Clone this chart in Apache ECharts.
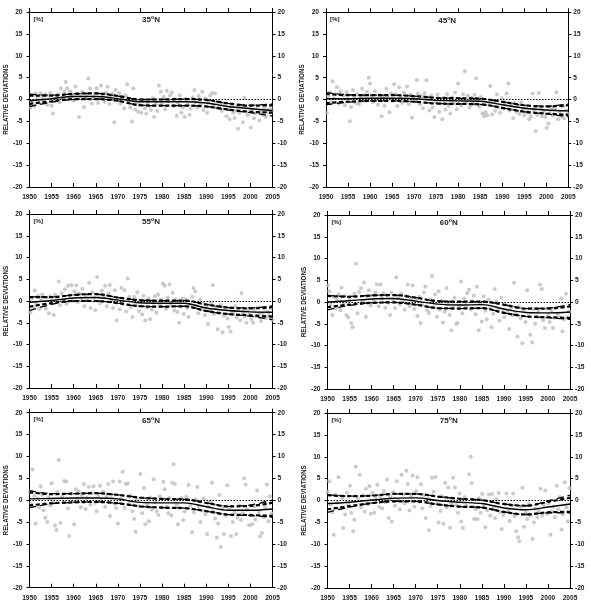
<!DOCTYPE html>
<html><head><meta charset="utf-8">
<script src="https://cdn.jsdelivr.net/npm/echarts@6/dist/echarts.min.js"></script>
<style>html,body{margin:0;padding:0;background:#fff}#c{width:591px;height:607px}</style>
</head><body><div id="c"></div><script>
const PANEL_TITLES = ['35', '45', '55', '60', '65', '75'];
const LINE_YEARS = [1950,1955,1960,1965,1970,1975,1980,1985,1990,1995,2000,2005];

const pts35 = [[1950.2,-1.9],[1950.5,-0.5],[1950.8,1.0],[1951.1,-1.5],[1951.4,1.4],[1951.8,0.3],[1952.2,-0.8],[1952.5,1.5],[1952.9,0.6],[1953.3,-0.2],[1953.6,1.2],[1954.0,-1.2],[1954.3,0.9],[1954.7,1.5],[1955.0,-1.4],[1955.3,-3.2],[1955.7,-0.3],[1956.1,0.5],[1956.4,1.2],[1956.8,-0.6],[1957.1,2.5],[1957.5,0.4],[1957.9,1.8],[1958.2,4.0],[1958.5,2.6],[1958.9,0.2],[1959.2,1.9],[1959.6,0.8],[1960.0,-0.3],[1960.4,3.0],[1960.8,1.4],[1961.2,-4.0],[1961.5,0.9],[1961.9,1.8],[1962.3,-1.7],[1962.6,0.3],[1963.0,1.2],[1963.3,4.8],[1963.7,2.5],[1964.1,-0.9],[1964.4,0.6],[1964.8,1.4],[1965.2,2.6],[1965.5,-0.8],[1965.9,0.2],[1966.2,3.2],[1966.6,1.0],[1967.0,-0.5],[1967.3,1.6],[1967.7,2.9],[1968.1,-1.0],[1968.4,0.5],[1968.8,1.3],[1969.2,-5.2],[1969.5,2.2],[1969.9,0.0],[1970.3,1.5],[1970.6,-0.9],[1971.0,0.4],[1971.4,-2.0],[1971.7,1.0],[1972.1,3.5],[1972.4,-0.3],[1972.8,-1.8],[1973.2,-5.0],[1973.5,2.5],[1973.9,-2.3],[1974.2,-0.6],[1974.6,-2.8],[1975.0,-1.2],[1975.3,-3.0],[1975.7,-0.2],[1976.1,-2.0],[1976.4,-3.2],[1976.8,-0.8],[1977.1,-1.5],[1977.5,-2.4],[1977.9,0.3],[1978.2,-4.0],[1978.6,-1.0],[1978.9,-2.6],[1979.3,3.2],[1979.7,1.8],[1980.0,-1.0],[1980.4,0.6],[1980.7,-2.2],[1981.1,2.0],[1981.5,-0.4],[1981.8,0.9],[1982.2,1.6],[1982.6,-1.5],[1982.9,0.2],[1983.3,-3.7],[1983.6,-0.8],[1984.0,1.0],[1984.4,-3.0],[1984.7,-1.8],[1985.1,-4.0],[1985.4,0.2],[1985.8,-1.2],[1986.2,-3.5],[1986.5,-2.1],[1986.9,0.5],[1987.3,2.2],[1987.6,-0.6],[1988.0,-1.8],[1988.3,0.8],[1988.7,-1.0],[1989.1,1.8],[1989.4,-2.4],[1989.8,0.3],[1990.2,-3.0],[1990.5,-0.7],[1990.9,0.9],[1991.3,1.5],[1991.6,-1.6],[1992.0,1.4],[1992.4,-0.5],[1992.7,-2.0],[1993.1,-1.5],[1993.5,-2.6],[1993.8,-0.9],[1994.2,-1.3],[1994.6,-3.8],[1995.0,-2.0],[1995.3,-4.5],[1995.7,-1.6],[1996.1,-3.0],[1996.4,-4.2],[1996.8,-2.5],[1997.2,-6.7],[1997.5,-3.0],[1997.9,-1.5],[1998.3,-5.2],[1998.6,0.4],[1999.0,-2.8],[1999.4,-3.6],[1999.7,-1.8],[2000.1,-6.4],[2000.5,-2.4],[2000.8,-4.3],[2001.2,-3.2],[2001.6,-1.4],[2002.0,-4.8],[2002.3,-2.7],[2002.7,-3.5],[2003.1,-1.9],[2003.5,-4.0],[2003.8,-2.3],[2004.2,-3.0],[2004.6,-1.7],[2004.9,-2.6]];

const pts45 = [[1950.2,-3.1],[1950.5,0.8],[1950.8,1.6],[1951.2,-0.6],[1951.5,4.2],[1951.8,0.3],[1952.2,1.2],[1952.5,2.8],[1952.9,-0.9],[1953.3,1.9],[1953.6,-0.2],[1954.0,0.9],[1954.3,-1.3],[1954.7,1.7],[1955.0,0.2],[1955.4,-5.0],[1955.7,-1.7],[1956.1,2.2],[1956.4,0.6],[1956.8,-0.8],[1957.1,1.2],[1957.5,-1.0],[1957.9,0.4],[1958.2,2.5],[1958.6,1.0],[1958.9,-0.4],[1959.3,1.8],[1959.7,5.0],[1960.0,3.7],[1960.4,0.8],[1960.7,-0.6],[1961.1,1.9],[1961.5,0.2],[1961.8,-1.2],[1962.2,1.0],[1962.6,-3.8],[1962.9,0.5],[1963.3,-1.4],[1963.7,2.5],[1964.0,0.9],[1964.4,-2.9],[1964.8,1.4],[1965.1,-0.3],[1965.5,3.5],[1965.8,1.2],[1966.2,-1.5],[1966.6,2.8],[1966.9,0.4],[1967.3,-0.8],[1967.7,1.6],[1968.0,0.0],[1968.4,3.0],[1968.8,-1.0],[1969.1,1.1],[1969.5,-4.2],[1969.9,0.6],[1970.2,-0.3],[1970.6,4.5],[1970.9,1.4],[1971.3,-1.1],[1971.7,0.8],[1972.0,-2.0],[1972.4,1.5],[1972.8,4.4],[1973.1,0.2],[1973.5,-2.5],[1973.9,0.9],[1974.2,-1.8],[1974.6,-4.0],[1974.9,-0.5],[1975.3,1.2],[1975.7,-2.8],[1976.0,-0.9],[1976.4,-4.5],[1976.8,0.4],[1977.1,-2.3],[1977.5,1.3],[1977.8,-1.5],[1978.2,-3.2],[1978.6,0.5],[1978.9,-0.9],[1979.3,1.6],[1979.7,-2.2],[1980.0,3.7],[1980.4,0.1],[1980.7,-1.4],[1981.1,1.2],[1981.5,6.5],[1981.8,-0.7],[1982.2,0.9],[1982.6,-1.8],[1983.0,0.4],[1983.3,-1.0],[1983.7,1.1],[1984.1,4.9],[1984.4,-0.3],[1984.8,-1.6],[1985.2,0.6],[1985.5,-3.2],[1985.9,-3.8],[1986.2,-2.9],[1986.6,-3.6],[1987.0,-1.2],[1987.3,3.1],[1987.7,-3.4],[1988.1,-0.5],[1988.4,-2.6],[1988.8,1.2],[1989.2,-1.8],[1989.5,-3.0],[1989.9,0.3],[1990.3,-2.1],[1990.6,-1.0],[1991.0,1.4],[1991.4,3.7],[1991.7,-2.5],[1992.1,-1.3],[1992.5,-4.3],[1992.8,-0.8],[1993.2,-2.8],[1993.6,-1.5],[1993.9,-3.3],[1994.3,-0.6],[1994.7,-2.2],[1995.0,-3.6],[1995.4,-1.8],[1995.8,-2.9],[1996.1,-4.5],[1996.5,-3.8],[1996.9,1.4],[1997.2,-2.4],[1997.6,-7.2],[1997.9,-3.5],[1998.3,1.5],[1998.7,-2.0],[1999.0,-3.8],[1999.4,-2.7],[1999.8,-4.0],[2000.1,-6.5],[2000.5,-5.5],[2000.8,-3.0],[2001.2,-1.8],[2001.6,-3.6],[2001.9,-2.3],[2002.3,1.7],[2002.7,-4.5],[2003.0,-2.8],[2003.4,-3.9],[2003.8,-1.6],[2004.1,-4.3],[2004.5,-2.5],[2004.9,-3.3]];

const pts55 = [[1950.2,-2.6],[1950.5,0.6],[1950.8,-1.4],[1951.2,2.4],[1951.5,-0.5],[1951.9,1.2],[1952.2,-1.8],[1952.6,0.3],[1952.9,1.5],[1953.3,-0.9],[1953.7,-1.8],[1954.0,0.8],[1954.4,-2.8],[1954.7,1.1],[1955.1,-0.2],[1955.5,-3.2],[1955.8,1.5],[1956.2,0.4],[1956.6,4.5],[1956.9,-1.0],[1957.3,1.8],[1957.6,0.2],[1958.0,2.7],[1958.4,-0.7],[1958.7,3.5],[1959.1,1.3],[1959.5,3.7],[1959.8,0.0],[1960.2,2.2],[1960.6,3.6],[1960.9,-0.3],[1961.3,1.7],[1961.7,0.6],[1962.0,2.8],[1962.4,-1.2],[1962.8,1.4],[1963.1,0.2],[1963.5,4.2],[1963.8,-1.6],[1964.2,2.0],[1964.6,0.7],[1964.9,-2.1],[1965.3,5.5],[1965.7,1.3],[1966.0,-0.5],[1966.4,2.4],[1966.8,0.9],[1967.1,3.5],[1967.5,-1.2],[1967.9,1.8],[1968.2,3.7],[1968.6,0.3],[1968.9,-1.6],[1969.3,2.5],[1969.7,-4.5],[1970.0,0.7],[1970.4,-1.9],[1970.8,3.0],[1971.1,-0.6],[1971.5,2.5],[1971.9,-2.4],[1972.2,5.2],[1972.6,0.9],[1972.9,-1.4],[1973.3,-3.7],[1973.7,1.0],[1974.0,-0.8],[1974.4,2.0],[1974.8,-2.3],[1975.1,-0.2],[1975.5,-3.1],[1975.8,1.2],[1976.2,-4.5],[1976.6,-1.5],[1976.9,0.6],[1977.3,-4.2],[1977.7,-2.0],[1978.0,-0.4],[1978.4,1.1],[1978.7,-2.7],[1979.1,1.5],[1979.5,-1.0],[1979.8,0.3],[1980.2,4.0],[1980.6,3.5],[1980.9,-1.8],[1981.3,0.8],[1981.7,3.8],[1982.0,-0.7],[1982.4,1.9],[1982.8,-2.2],[1983.1,0.4],[1983.5,-2.5],[1983.9,-5.0],[1984.2,-1.3],[1984.6,0.6],[1984.9,-3.0],[1985.3,0.4],[1985.7,-1.6],[1986.0,-3.7],[1986.4,-0.9],[1986.8,1.0],[1987.1,3.0],[1987.5,2.2],[1987.8,-1.2],[1988.2,-2.8],[1988.6,0.3],[1988.9,-1.9],[1989.3,-0.6],[1989.7,-3.2],[1990.0,-1.5],[1990.4,-5.3],[1990.7,-2.3],[1991.1,-0.4],[1991.5,3.6],[1991.8,-3.0],[1992.2,-1.6],[1992.6,-6.5],[1992.9,-2.8],[1993.3,-0.9],[1993.7,-7.2],[1994.0,-3.4],[1994.4,-1.8],[1994.8,-4.0],[1995.1,-6.0],[1995.5,-7.0],[1995.8,-2.4],[1996.2,-3.0],[1996.6,-1.2],[1996.9,-3.8],[1997.3,-2.0],[1997.7,-4.5],[1998.0,1.8],[1998.4,-2.6],[1998.7,-3.6],[1999.1,-5.0],[1999.5,-1.9],[1999.8,-3.1],[2000.2,-4.2],[2000.6,-5.0],[2000.9,-2.3],[2001.3,-3.5],[2001.7,-1.5],[2002.0,-2.8],[2002.4,-4.6],[2002.8,-3.0],[2003.1,-1.8],[2003.5,-3.9],[2003.9,-2.4],[2004.2,-3.3],[2004.6,-1.6],[2004.9,-4.3]];

const pts60 = [[1950.1,3.8],[1950.4,2.5],[1950.7,-0.6],[1951.1,-3.0],[1951.4,1.2],[1951.8,-1.5],[1952.1,0.6],[1952.5,1.8],[1952.9,-1.9],[1953.2,3.3],[1953.6,-0.4],[1953.9,1.4],[1954.3,-3.0],[1954.7,-3.5],[1955.0,0.8],[1955.4,-4.8],[1955.7,-5.8],[1956.1,1.9],[1956.5,8.8],[1956.8,-2.6],[1957.2,2.3],[1957.6,3.2],[1957.9,0.2],[1958.3,4.5],[1958.7,-3.4],[1959.0,1.4],[1959.4,2.7],[1959.8,-0.8],[1960.1,1.5],[1960.5,0.3],[1960.9,2.2],[1961.2,4.0],[1961.6,-1.0],[1962.0,4.0],[1962.3,0.8],[1962.7,2.0],[1963.1,-1.3],[1963.4,1.6],[1963.8,-0.2],[1964.2,-3.0],[1964.5,2.1],[1964.9,0.5],[1965.3,-1.4],[1965.6,5.7],[1966.0,1.1],[1966.4,-0.6],[1966.7,1.9],[1967.1,0.2],[1967.5,-1.8],[1967.8,1.4],[1968.2,4.0],[1968.6,-0.9],[1968.9,0.8],[1969.3,3.8],[1969.7,-1.6],[1970.0,0.4],[1970.4,-3.2],[1970.8,1.2],[1971.1,-4.8],[1971.5,-0.7],[1971.9,2.2],[1972.2,3.5],[1972.6,-1.9],[1973.0,-2.5],[1973.3,0.6],[1973.7,6.0],[1974.1,-1.2],[1974.4,1.7],[1974.8,-3.4],[1975.2,2.5],[1975.5,-1.8],[1975.9,0.3],[1976.2,-4.7],[1976.6,-2.2],[1977.0,3.2],[1977.3,-0.5],[1977.7,-3.0],[1978.1,-6.5],[1978.4,-1.4],[1978.8,1.0],[1979.2,-5.0],[1979.5,-4.8],[1979.9,-0.9],[1980.3,4.7],[1980.6,-2.6],[1981.0,0.8],[1981.4,-1.2],[1981.7,2.0],[1982.1,2.8],[1982.5,-1.7],[1982.8,0.2],[1983.2,1.5],[1983.6,-2.8],[1983.9,3.5],[1984.3,-6.5],[1984.7,-0.4],[1985.0,-4.5],[1985.4,1.3],[1985.8,-2.0],[1986.1,-4.0],[1986.5,0.6],[1986.9,-1.5],[1987.2,-5.8],[1987.6,-2.7],[1987.9,3.0],[1988.3,0.2],[1988.7,-1.8],[1989.0,-4.3],[1989.4,1.0],[1989.8,-2.2],[1990.1,-3.5],[1990.5,-0.8],[1990.9,-2.2],[1991.2,-6.2],[1991.6,-1.4],[1992.0,-3.0],[1992.3,4.4],[1992.7,-2.5],[1993.1,-8.0],[1993.4,-1.0],[1993.8,-3.8],[1994.2,-9.5],[1994.5,-2.0],[1994.9,-4.6],[1995.3,2.7],[1995.6,-3.2],[1996.0,-7.5],[1996.4,-9.3],[1996.7,-1.6],[1997.1,-5.0],[1997.5,-3.4],[1997.8,-2.0],[1998.2,4.0],[1998.6,3.0],[1998.9,-4.2],[1999.3,-6.0],[1999.7,-1.5],[2000.0,-3.0],[2000.4,-4.6],[2000.8,-2.0],[2001.1,-6.0],[2001.5,-3.6],[2001.9,-1.2],[2002.2,-2.8],[2002.6,-3.5],[2003.0,0.8],[2003.3,-6.8],[2003.7,-4.0],[2004.1,1.9],[2004.4,-3.5],[2004.8,-2.2]];

const pts65 = [[1950.1,2.0],[1950.4,-0.8],[1950.7,7.0],[1951.1,1.0],[1951.4,-5.3],[1951.8,0.4],[1952.2,-1.6],[1952.5,3.2],[1952.9,1.2],[1953.2,-2.3],[1953.6,-4.0],[1954.0,-5.0],[1954.3,0.7],[1954.7,-1.2],[1955.0,3.9],[1955.4,-0.5],[1955.8,-5.8],[1956.1,-6.8],[1956.3,1.8],[1956.6,9.2],[1957.0,-5.2],[1957.4,0.9],[1957.9,4.4],[1958.3,4.3],[1958.7,-1.9],[1959.0,-8.2],[1959.4,1.5],[1959.8,-0.3],[1960.1,-5.5],[1960.5,2.5],[1960.8,0.4],[1961.2,2.0],[1961.6,-1.6],[1961.9,1.1],[1962.3,3.7],[1962.7,-2.0],[1963.0,0.6],[1963.4,3.0],[1963.8,-1.0],[1964.1,1.6],[1964.5,3.2],[1964.9,-0.6],[1965.2,-2.5],[1965.6,1.0],[1966.0,3.3],[1966.3,-0.2],[1966.7,2.0],[1967.1,-1.5],[1967.4,0.8],[1967.8,3.7],[1968.2,-3.6],[1968.5,1.2],[1968.9,4.3],[1969.3,-0.8],[1969.6,-1.8],[1970.0,-5.3],[1970.4,4.3],[1970.7,0.3],[1971.1,6.5],[1971.5,-1.8],[1971.8,3.7],[1972.2,3.8],[1972.6,-0.6],[1972.9,1.1],[1973.3,-2.5],[1973.7,-4.3],[1974.0,-7.2],[1974.4,0.2],[1974.8,-1.4],[1975.1,6.0],[1975.5,-3.0],[1975.9,2.8],[1976.2,-5.5],[1976.6,-1.0],[1977.0,-4.8],[1977.3,0.6],[1977.7,-2.2],[1978.1,4.8],[1978.4,-0.4],[1978.8,-2.5],[1979.2,-3.4],[1979.5,0.9],[1979.9,-1.6],[1980.3,4.2],[1980.6,2.5],[1981.0,-1.5],[1981.4,-3.0],[1981.7,0.6],[1982.1,-3.5],[1982.3,4.0],[1982.6,8.2],[1982.9,3.7],[1983.3,-1.0],[1983.6,-5.5],[1984.0,-1.8],[1984.4,0.5],[1984.8,-4.5],[1985.1,-2.6],[1985.5,0.8],[1986.0,3.5],[1986.4,-1.2],[1986.8,-7.3],[1987.2,-2.8],[1987.6,0.2],[1988.0,3.0],[1988.3,-1.5],[1988.7,-5.0],[1989.1,-2.4],[1989.4,0.4],[1989.8,-3.2],[1990.2,-7.7],[1990.5,-1.5],[1990.9,-0.3],[1991.3,4.0],[1991.6,-2.6],[1992.0,-4.2],[1992.4,-8.5],[1992.7,-5.3],[1993.0,1.2],[1993.3,-10.7],[1993.6,-2.0],[1994.0,-7.7],[1994.4,-3.5],[1994.8,3.4],[1995.2,-1.8],[1995.6,-8.2],[1996.0,-5.0],[1996.4,-2.8],[1996.8,-7.7],[1997.1,-4.0],[1997.5,-1.2],[1997.9,-4.5],[1998.2,-3.0],[1998.6,5.0],[1998.9,3.6],[1999.3,-2.2],[1999.7,-5.7],[2000.0,-3.4],[2000.4,-5.5],[2000.8,-1.4],[2001.1,-4.4],[2001.5,2.2],[2001.9,-2.7],[2002.2,-8.3],[2002.6,-7.5],[2003.0,-3.8],[2003.3,-1.6],[2003.7,3.6],[2004.1,-4.8],[2004.4,0.9],[2004.8,-3.0]];

const pts75 = [[1950.1,2.0],[1950.4,4.4],[1950.7,-0.9],[1951.1,-2.6],[1951.4,-7.8],[1951.8,1.3],[1952.2,-0.5],[1952.5,5.3],[1952.9,-1.8],[1953.3,0.6],[1953.6,-6.3],[1954.0,-3.2],[1954.4,1.8],[1954.7,-1.0],[1955.1,3.4],[1955.4,-2.8],[1955.8,-7.0],[1956.1,-4.4],[1956.4,7.7],[1956.9,0.5],[1957.3,5.9],[1957.6,-1.6],[1958.0,1.2],[1958.4,-2.5],[1958.7,2.7],[1959.1,-0.8],[1959.5,3.3],[1959.8,-3.0],[1960.2,1.8],[1960.6,-2.8],[1960.9,0.4],[1961.3,3.6],[1961.7,-1.5],[1962.0,1.0],[1962.4,-1.8],[1962.8,2.2],[1963.1,-0.4],[1963.5,4.8],[1963.9,-4.0],[1964.2,0.9],[1964.6,-4.8],[1964.9,1.9],[1965.3,-1.2],[1965.7,4.4],[1966.0,0.2],[1966.4,-2.0],[1966.8,5.9],[1967.1,1.4],[1967.5,-0.6],[1967.9,6.8],[1968.2,3.8],[1968.6,-2.3],[1969.0,0.9],[1969.3,5.7],[1969.7,-1.4],[1970.1,2.2],[1970.4,5.3],[1970.8,-0.2],[1971.2,3.7],[1971.5,-1.8],[1971.9,1.2],[1972.3,-4.0],[1972.6,0.4],[1973.0,-6.8],[1973.4,-1.2],[1973.7,5.2],[1974.1,2.0],[1974.5,5.4],[1974.8,-0.7],[1975.2,-5.0],[1975.6,-2.4],[1975.9,1.0],[1976.3,-5.3],[1976.7,4.0],[1977.0,-1.6],[1977.4,3.0],[1977.8,-6.2],[1978.1,-0.6],[1978.5,5.2],[1978.9,3.0],[1979.2,-1.0],[1979.6,-2.8],[1980.0,1.6],[1980.3,-4.8],[1980.7,-6.3],[1981.1,0.8],[1981.5,-1.2],[1982.1,6.0],[1982.5,10.0],[1982.7,4.0],[1983.0,-1.4],[1983.3,-4.2],[1983.6,-2.0],[1984.0,-4.3],[1984.4,0.5],[1984.7,-2.8],[1985.1,1.5],[1985.5,-1.0],[1985.8,-6.1],[1986.2,-2.2],[1986.6,1.4],[1986.9,-3.5],[1987.3,1.5],[1987.7,-1.8],[1988.0,-4.0],[1988.4,0.3],[1988.8,1.7],[1989.1,-2.6],[1989.5,-6.5],[1989.9,-3.3],[1990.2,-0.8],[1990.6,1.6],[1991.0,-2.4],[1991.3,-4.7],[1991.7,-1.2],[1992.1,1.6],[1992.4,-3.6],[1992.8,-7.0],[1993.2,-8.4],[1993.5,-9.3],[1993.8,-1.5],[1994.2,2.9],[1994.6,-6.0],[1995.0,-2.8],[1995.3,-4.2],[1995.7,-0.8],[1996.1,-3.4],[1996.5,-8.8],[1996.8,-5.0],[1997.2,-1.9],[1997.6,-3.8],[1997.9,-2.4],[1998.3,2.7],[1998.7,-3.5],[1999.0,-1.0],[1999.4,2.3],[1999.8,-3.0],[2000.1,-0.6],[2000.6,-7.8],[2000.9,-2.5],[2001.2,-1.4],[2001.6,-3.8],[2002.0,3.4],[2002.3,-2.0],[2002.7,0.8],[2003.1,-6.6],[2003.4,-3.2],[2003.8,4.2],[2004.2,-1.6],[2004.5,-4.8],[2004.9,2.8]];

// trend lines and bounds at LINE_YEARS
const trend35 = [-0.3,0.2,0.7,0.7,0.2,-0.5,-0.5,-0.5,-0.8,-1.6,-2.1,-2.5];
const inUp35  = [0.9,0.9,1.3,1.4,0.8,0.0,0.0,0.1,-0.1,-0.9,-1.4,-1.3];
const inLo35  = [-1.0,-0.4,0.1,0.1,-0.3,-1.3,-1.4,-1.4,-1.6,-2.3,-2.8,-3.0];
const outUp35 = [1.2,1.0,1.3,1.4,0.8,0.0,0.0,0.1,-0.1,-0.9,-1.3,-1.0];
const outLo35 = [-1.6,-0.6,0.0,0.1,-0.3,-1.3,-1.4,-1.4,-1.6,-2.4,-3.0,-3.8];

const trend45 = [0.2,0.2,0.3,0.3,0.2,-0.2,-0.3,-0.4,-1.2,-2.0,-2.4,-2.6];
const inUp45  = [1.3,1.0,1.0,1.0,0.8,0.4,0.3,0.2,-0.5,-1.3,-1.6,-1.3];
const inLo45  = [-0.8,-0.5,-0.3,-0.3,-0.5,-0.9,-1.0,-1.1,-1.9,-2.8,-3.2,-3.5];
const outUp45 = [1.6,1.1,1.0,1.0,0.8,0.4,0.3,0.2,-0.5,-1.3,-1.5,-1.0];
const outLo45 = [-1.2,-0.6,-0.3,-0.3,-0.5,-0.9,-1.0,-1.1,-1.9,-2.8,-3.3,-3.9];

const trend55 = [-0.3,0.1,0.7,0.8,0.2,-0.4,-0.5,-0.5,-1.6,-2.2,-2.5,-2.6];
const inUp55  = [0.9,0.9,1.4,1.6,0.8,0.2,0.1,0.1,-0.8,-1.5,-1.7,-1.4];
const inLo55  = [-1.3,-0.5,0.0,0.0,-0.5,-1.2,-1.3,-1.2,-2.3,-3.0,-3.3,-3.6];
const outUp55 = [1.0,0.9,1.4,1.6,0.8,0.2,0.1,0.1,-0.8,-1.5,-1.6,-1.1];
const outLo55 = [-2.2,-0.8,0.0,0.0,-0.5,-1.2,-1.3,-1.2,-2.3,-3.0,-3.5,-4.3];

const trend60 = [0.0,0.3,0.7,0.8,0.2,-0.5,-0.7,-0.6,-1.6,-2.4,-2.5,-2.3];
const inUp60  = [1.4,1.2,1.5,1.6,1.0,0.2,0.1,0.1,-0.6,-1.5,-1.5,-1.0];
const inLo60  = [-1.2,-0.6,-0.2,-0.1,-0.6,-1.4,-1.5,-1.4,-2.5,-3.3,-3.5,-3.7];
const outUp60 = [1.5,1.3,1.5,1.6,1.0,0.2,0.1,0.1,-0.6,-1.5,-1.4,-0.6];
const outLo60 = [-1.8,-0.8,-0.2,-0.1,-0.6,-1.4,-1.5,-1.4,-2.5,-3.3,-3.6,-4.0];

const trend65 = [0.3,0.4,0.5,0.5,0.3,-0.5,-0.6,-0.6,-1.5,-2.3,-2.3,-2.0];
const inUp65  = [1.8,1.4,1.5,1.6,1.2,0.6,0.3,0.2,-0.6,-1.4,-1.3,-0.6];
const inLo65  = [-1.2,-0.7,-0.5,-0.4,-0.7,-1.4,-1.7,-1.8,-2.5,-3.3,-3.4,-3.6];
const outUp65 = [2.2,1.5,1.5,1.6,1.2,0.6,0.3,0.2,-0.6,-1.4,-1.1,0.0];
const outLo65 = [-1.7,-0.8,-0.5,-0.4,-0.7,-1.4,-1.7,-1.8,-2.5,-3.3,-3.5,-3.9];

const trend75 = [-0.7,-0.4,0.1,0.5,0.6,0.0,-0.4,-0.7,-1.7,-2.1,-1.5,-0.8];
const inUp75  = [1.2,1.0,1.1,1.5,1.5,0.9,0.4,0.1,-0.8,-1.2,-0.3,0.6];
const inLo75  = [-2.0,-1.3,-0.6,-0.2,-0.2,-0.9,-1.4,-1.6,-2.6,-3.2,-2.7,-2.6];
const outUp75 = [1.3,1.0,1.1,1.5,1.5,0.9,0.4,0.1,-0.8,-1.2,-0.1,1.2];
const outLo75 = [-2.7,-1.5,-0.6,-0.2,-0.2,-0.9,-1.4,-1.6,-2.6,-3.2,-2.8,-2.8];

const PANELS = [
  {t:PANEL_TITLES[0], pts:pts35, tr:trend35, iu:inUp35, il:inLo35, ou:outUp35, ol:outLo35},
  {t:PANEL_TITLES[1], pts:pts45, tr:trend45, iu:inUp45, il:inLo45, ou:outUp45, ol:outLo45},
  {t:PANEL_TITLES[2], pts:pts55, tr:trend55, iu:inUp55, il:inLo55, ou:outUp55, ol:outLo55},
  {t:PANEL_TITLES[3], pts:pts60, tr:trend60, iu:inUp60, il:inLo60, ou:outUp60, ol:outLo60},
  {t:PANEL_TITLES[4], pts:pts65, tr:trend65, iu:inUp65, il:inLo65, ou:outUp65, ol:outLo65},
  {t:PANEL_TITLES[5], pts:pts75, tr:trend75, iu:inUp75, il:inLo75, ou:outUp75, ol:outLo75}
];

const LAYOUT = [
  {l:29.5, t:12,  w:243,   h:175},
  {l:326,  t:12.3,w:242.3, h:174.5},
  {l:29.5, t:214, w:243,   h:174},
  {l:327.5,t:215, w:242.5, h:174},
  {l:29.5, t:412.7,w:243,  h:175},
  {l:327.5,t:413, w:242.5, h:175}
];

const FONT = 'Liberation Sans, Arial, sans-serif';
const lbl = {fontFamily:FONT, fontWeight:'bold', fontSize:6.6, color:'#222'};
const axLine = {show:true, onZero:false, lineStyle:{color:'#000', width:1}};
const fmt = v => String(v);

const grid=[], xAxis=[], yAxis=[], series=[], graphic=[];
PANELS.forEach((p,i)=>{
  const L = LAYOUT[i];
  grid.push({left:L.l, top:L.t, width:L.w, height:L.h, containLabel:false});
  xAxis.push({type:'value', gridIndex:i, min:1950, max:2005, interval:5, position:'bottom',
    axisLine:axLine, axisTick:{show:true, inside:true, length:4, lineStyle:{color:'#000'}},
    axisLabel:Object.assign({margin:7, formatter:fmt}, lbl), splitLine:{show:false}});
  xAxis.push({type:'value', gridIndex:i, min:1950, max:2005, interval:5, position:'top',
    axisLine:axLine, axisTick:{show:true, inside:false, length:4, lineStyle:{color:'#000'}},
    axisLabel:{show:false}, splitLine:{show:false}});
  yAxis.push({type:'value', gridIndex:i, min:-20, max:20, interval:5, position:'left',
    name:'RELATIVE DEVIATIONS', nameLocation:'middle', nameRotate:90, nameGap:19,
    nameTextStyle:{fontFamily:FONT, fontWeight:'bold', fontSize:6.3, color:'#222'},
    axisLine:axLine, axisTick:{show:true, inside:false, length:3, lineStyle:{color:'#000'}},
    axisLabel:Object.assign({margin:7, formatter:fmt}, lbl), splitLine:{show:false}});
  yAxis.push({type:'value', gridIndex:i, min:-20, max:20, interval:5, position:'right',
    axisLine:axLine, axisTick:{show:true, inside:false, length:3, lineStyle:{color:'#000'}},
    axisLabel:Object.assign({margin:5, formatter:fmt}, lbl), splitLine:{show:false}});
  const xi = 2*i, yi = 2*i;
  series.push({type:'scatter', xAxisIndex:xi, yAxisIndex:yi, data:p.pts, symbol:'circle', symbolSize:4,
    itemStyle:{color:'#bdbdbd'}, silent:true, z:1});
  const mk = (arr)=>LINE_YEARS.map((y,k)=>[y, arr[k]]);
  const lineS = (arr, style, z, extra)=>Object.assign({type:'line', xAxisIndex:xi, yAxisIndex:yi, data:mk(arr),
    smooth:0.35, showSymbol:false, symbol:'none', lineStyle:style, silent:true, z:z}, extra||{});
  series.push(lineS(p.tr, {color:'#000', width:1.4, type:'solid'}, 5, {
    markLine:{silent:true, symbol:'none', label:{show:false},
      lineStyle:{color:'#000', width:1, type:[1.5,1.5]}, data:[{yAxis:0}], z:3}}));
  series.push(lineS(p.ou, {color:'#000', width:1.3, type:[7,4]}, 4));
  series.push(lineS(p.ol, {color:'#000', width:1.3, type:[7,4]}, 4));
  series.push(lineS(p.iu, {color:'#000', width:2.2, type:[4,2.5]}, 4));
  series.push(lineS(p.il, {color:'#000', width:2.2, type:[4,2.5]}, 4));
  graphic.push({type:'text', x:L.l+4, y:L.t+7, style:{text:'[%]', fontFamily:FONT, fontWeight:'bold',
    fontSize:6.2, fill:'#222', textAlign:'left', textVerticalAlign:'middle'}});
  graphic.push({type:'text', x:L.l+L.w/2, y:L.t+8, style:{text:'{n|'+p.t+'}{s|o}{n|N}',
    textAlign:'center', textVerticalAlign:'middle',
    rich:{n:{fontFamily:FONT, fontWeight:'bold', fontSize:8, fill:'#222', color:'#222'},
          s:{fontFamily:FONT, fontWeight:'bold', fontSize:5.2, fill:'#222', color:'#222', verticalAlign:'top', padding:[0,0,4,0]}}}});
});

const chart = echarts.init(document.getElementById('c'), null, {renderer:'canvas'});
chart.setOption({animation:false, backgroundColor:'#fff', grid, xAxis, yAxis, series, graphic});
</script></body></html>
